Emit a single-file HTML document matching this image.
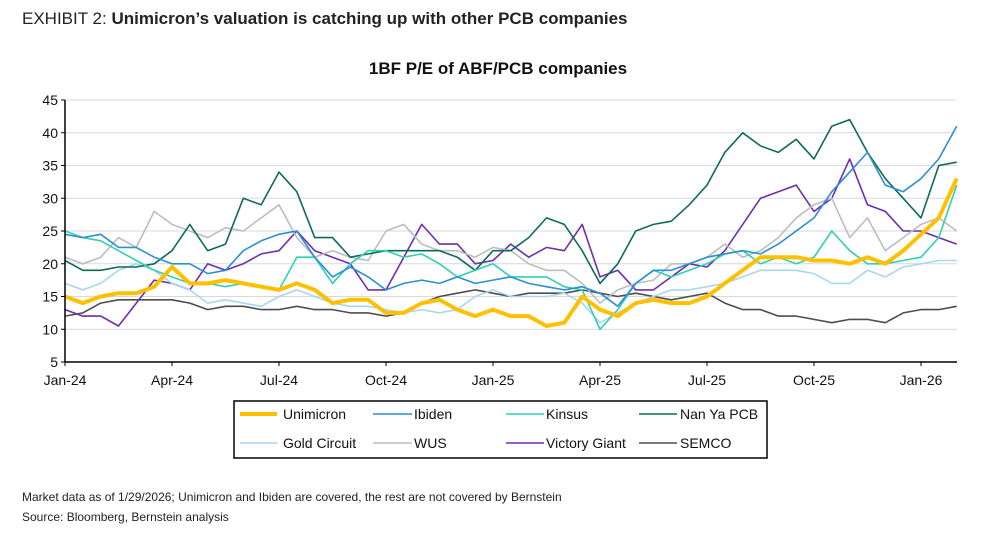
<!DOCTYPE html>
<html><head><meta charset="utf-8"><style>
body{margin:0;background:#fff;font-family:"Liberation Sans",Arial,sans-serif;}
#wrap{position:relative;width:987px;height:534px;overflow:hidden;}
.hdr{position:absolute;left:22px;top:9px;font-size:17px;color:#222;}
.foot{position:absolute;left:22px;font-size:12px;color:#222;}
</style></head><body>
<div id="wrap">
<div class="hdr">EXHIBIT 2: <b>Unimicron’s valuation is catching up with other PCB companies</b></div>
<svg id="chart" width="987" height="534" style="position:absolute;left:0;top:0"></svg>
<div class="foot" style="top:490px">Market data as of 1/29/2026; Unimicron and Ibiden are covered, the rest are not covered by Bernstein</div>
<div class="foot" style="top:510px">Source: Bloomberg, Bernstein analysis</div>
</div>
<script>
const xTickLabels=["Jan-24","Apr-24","Jul-24","Oct-24","Jan-25","Apr-25","Jul-25","Oct-25","Jan-26"];
const yTicks=[5,10,15,20,25,30,35,40,45];
const seriesNames=["Unimicron","Ibiden","Kinsus","Nan Ya PCB","Gold Circuit","WUS","Victory Giant","SEMCO"];
const unimicron=[15,14,15,15.5,15.5,16.5,19.5,17,17,17.5,17,16.5,16,17,16,14,14.5,14.5,12.5,12.5,14,14.5,13,12,13,12,12,10.5,11,15,13,12,14,14.5,14,14,15,17,19,21,21,21,20.5,20.5,20,21,20,22,24.5,27,33];
const ibiden=[24.5,24,24.5,22.5,22.5,21,20,20,18.5,19,22,23.5,24.5,25,21,18,19.5,18,16,17,17.5,17,18,17,17.5,18,17,16.5,16,16.5,15.5,13.5,17,19,19,20,21,21.5,22,21.5,23,25,27,31,34,37,32,31,33,36,41];
const kinsus=[25,24,23.5,22,20.5,19,18,17,17,16.5,17,16.5,16,21,21,17,20,22,22,21,21.5,20,18,19,20,18,18,18,16.5,16,10,13,17,19,18,19,20,21.5,22,20,21,20,21,25,22,20,20,20.5,21,24,32];
const nanya=[20.5,19,19,19.5,19.5,20,22,26,22,23,30,29,34,31,24,24,21,21.5,22,22,22,22,21,19,22,22,24,27,26,22,17,20,25,26,26.5,29,32,37,40,38,37,39,36,41,42,37,33,30,27,35,35.5];
const gold=[17,16,17,19,20,19,17,16,14,14.5,14,13.5,15,16,15,14,13.5,13.5,13,12.5,13,12.5,13,15,16,15,15,15,15.5,14,11,12.5,14,15,16,16,16.5,17,18,19,19,19,18.5,17,17,19,18,19.5,20,20.5,20.5];
const wus=[21,20,21,24,22.5,28,26,25,24,25.5,25,27,29,24,21,22,21,20.5,25,26,23,22,22,21,22.5,22,20,19,19,17,14,16,17,17.5,20,20,21,23,21,22,24,27,29,30,24,27,22,24,26,27,25];
const victory=[13,12,12,10.5,14,17.5,17,16,20,19,20,21.5,22,25,22,21,20,16,16,21,26,23,23,20,20.5,23,21,22.5,22,26,18,19,16,16,18,20,19.5,22,26,30,31,32,28,30,36,29,28,25,25,24,23];
const semco=[12,12.5,14,14.5,14.5,14.5,14.5,14,13,13.5,13.5,13,13,13.5,13,13,12.5,12.5,12,12.5,14,15,15.5,16,15.5,15,15.5,15.5,15.5,16,15.5,15,15.5,15,14.5,15,15.5,14,13,13,12,12,11.5,11,11.5,11.5,11,12.5,13,13,13.5];
const allSeries=[unimicron,ibiden,kinsus,nanya,gold,wus,victory,semco];
const colors=["#ffc000","#2a8fd4","#2fd0b4","#0e6b57","#a9d6ef","#bdbdbd","#6e2eae","#4d4d4d"];
const widths=[4,1.6,1.6,1.6,1.6,1.6,1.6,1.6];
const L=65,R=957,T=100,B=362;
const monthW=(921-65)/24;
function xPos(i){return L+i*0.5*monthW;}
function yPos(v){return B-(v-5)/40*(B-T);}
const svg=document.getElementById('chart');
const NS='http://www.w3.org/2000/svg';
function mk(tag,attrs){const e=document.createElementNS(NS,tag);for(const k in attrs)e.setAttribute(k,attrs[k]);svg.appendChild(e);return e;}
let t=mk('text',{x:498,y:74,'text-anchor':'middle','font-size':17,'font-weight':'bold',fill:'#111'});
t.textContent='1BF P/E of ABF/PCB companies';


yTicks.forEach(v=>{
  if(v>5){const g=mk('line',{x1:L,x2:R,y1:yPos(v),y2:yPos(v),stroke:'#d9d9d9','stroke-width':1});
  
  }
  const tk=mk('line',{x1:L-4,x2:L,y1:yPos(v),y2:yPos(v),stroke:'#000'});
  
  
  const lb=mk('text',{x:L-7,y:yPos(v)+5,'text-anchor':'end','font-size':14,fill:'#111'});
  lb.textContent=v;
  
  
});
xTickLabels.forEach((s,i)=>{
  const x=L+i*3*monthW;
  const tk=mk('line',{x1:x,x2:x,y1:B,y2:B+4,stroke:'#000'});
  
  
  const lb=mk('text',{x:x,y:B+23,'text-anchor':'middle','font-size':14,fill:'#111'});
  lb.textContent=s;
  
  
});
for(let k=allSeries.length-1;k>=0;k--){
  const d=allSeries[k].map((v,i)=>(i?'L':'M')+xPos(i).toFixed(1)+','+yPos(v).toFixed(1)).join('');
  const p=mk('path',{d:d,fill:'none',stroke:colors[k],'stroke-width':widths[k],'stroke-linejoin':'round'});
  
  
}
const ax=mk('path',{d:`M${L},${T}V${B}H${R}`,fill:'none',stroke:'#000','stroke-width':1.5});


const box=mk('rect',{x:234,y:401,width:533,height:57,fill:'none',stroke:'#000','stroke-width':1.5});


const colX=[[240,277,283],[373,412,414],[506,544,546],[639,677,680]];
seriesNames.forEach((n,k)=>{
  const c=colX[k%4],y=k<4?414:443;
  const sw=mk('line',{x1:c[0],x2:c[1],y1:y,y2:y,stroke:colors[k],'stroke-width':widths[k]});
  
  
  const lb=mk('text',{x:c[2],y:y+5,'font-size':14,fill:'#111'});
  lb.textContent=n;
  
  
});
</script>
</body></html>
